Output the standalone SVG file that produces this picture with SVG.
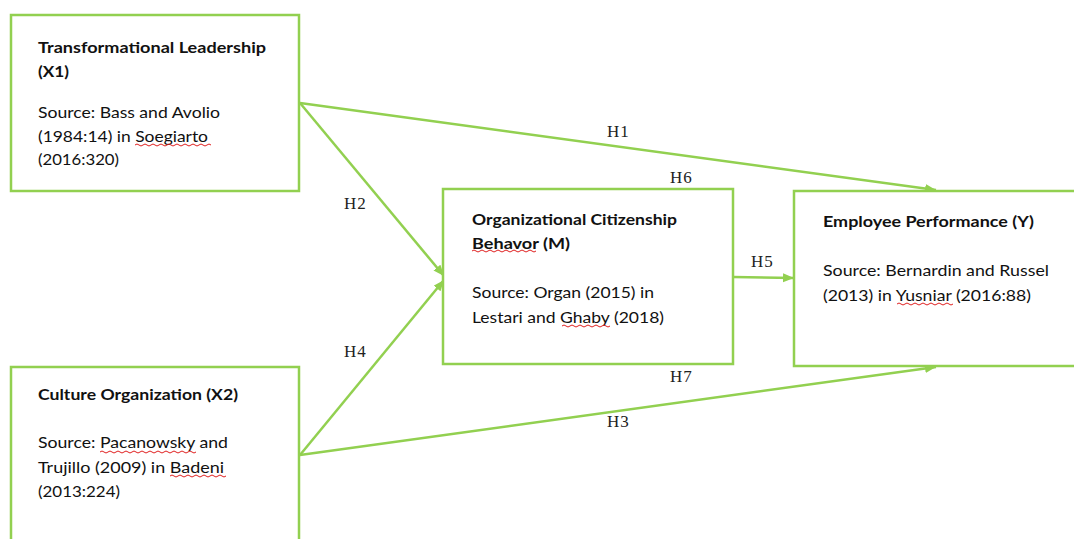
<svg xmlns="http://www.w3.org/2000/svg" width="1074" height="539" viewBox="0 0 1074 539">
<style>
.box{fill:#fff;stroke:#92D050;stroke-width:2.5}
.edge{fill:none;stroke:#92D050;stroke-width:2.5}
.t{font-family:Lato,"Liberation Sans",sans-serif;font-size:16px;fill:#111}
.b{font-weight:bold}
.h{font-family:"Liberation Serif","DejaVu Serif",serif;font-size:17px;fill:#222;letter-spacing:1px}
.sq{fill:none;stroke:#e02020;stroke-width:1}
</style>
<defs>
<marker id="arr" markerUnits="userSpaceOnUse" markerWidth="12" markerHeight="10" refX="11" refY="4.5" orient="auto">
<path d="M0,0 L11,4.5 L0,9 z" fill="#92D050"/>
</marker>
</defs>
<rect width="1074" height="539" fill="#fff"/>
<g id="connectors">
<line class="edge" x1="300" y1="103" x2="936" y2="190" marker-end="url(#arr)"/>
<line class="edge" x1="300" y1="103" x2="444" y2="276" marker-end="url(#arr)"/>
<line class="edge" x1="300" y1="455" x2="444" y2="280" marker-end="url(#arr)"/>
<line class="edge" x1="300" y1="455" x2="936" y2="367" marker-end="url(#arr)"/>
<line class="edge" x1="733" y1="277" x2="794" y2="278" marker-end="url(#arr)"/>
<text class="h" x="607" y="137">H1</text>
<text class="h" x="344" y="209">H2</text>
<text class="h" x="607" y="427">H3</text>
<text class="h" x="344" y="357">H4</text>
<text class="h" x="751" y="267">H5</text>
<text class="h" x="670" y="183">H6</text>
<text class="h" x="670" y="382">H7</text>
</g>
<g id="x1">
<rect class="box" x="11" y="15" width="288" height="176"/>
<text class="t b" x="38" y="53" textLength="228" lengthAdjust="spacingAndGlyphs">Transformational Leadership</text>
<text class="t b" x="38" y="77" textLength="31" lengthAdjust="spacingAndGlyphs">(X1)</text>
<text class="t" x="38" y="118" textLength="182" lengthAdjust="spacingAndGlyphs">Source: Bass and Avolio</text>
<text class="t" x="38" y="142" textLength="170" lengthAdjust="spacingAndGlyphs">(1984:14) in Soegiarto</text>
<text class="t" x="38" y="165" textLength="81" lengthAdjust="spacingAndGlyphs">(2016:320)</text>
<path class="sq" d="M135,145 q2,-2 4,0 t4,0 t4,0 t4,0 t4,0 t4,0 t4,0 t4,0 t4,0 t4,0 t4,0 t4,0 t4,0 t4,0 t4,0 t4,0 t4,0 t4,0 t4,0"/>
</g>
<g id="x2">
<rect class="box" x="11" y="367" width="288" height="200"/>
<text class="t b" x="38" y="400" textLength="200" lengthAdjust="spacingAndGlyphs">Culture Organization (X2)</text>
<text class="t" x="38" y="448" textLength="190" lengthAdjust="spacingAndGlyphs">Source: Pacanowsky and</text>
<text class="t" x="38" y="473" textLength="186" lengthAdjust="spacingAndGlyphs">Trujillo (2009) in Badeni</text>
<text class="t" x="38" y="497" textLength="82" lengthAdjust="spacingAndGlyphs">(2013:224)</text>
<path class="sq" d="M100,452 q2,-2 4,0 t4,0 t4,0 t4,0 t4,0 t4,0 t4,0 t4,0 t4,0 t4,0 t4,0 t4,0 t4,0 t4,0 t4,0 t4,0 t4,0 t4,0 t4,0 t4,0 t4,0 t4,0 t4,0 t4,0"/>
<path class="sq" d="M170,476 q2,-2 4,0 t4,0 t4,0 t4,0 t4,0 t4,0 t4,0 t4,0 t4,0 t4,0 t4,0 t4,0 t4,0 t4,0"/>
</g>
<g id="m">
<rect class="box" x="443" y="189" width="290" height="175"/>
<text class="t b" x="472" y="225" textLength="205" lengthAdjust="spacingAndGlyphs">Organizational Citizenship</text>
<text class="t b" x="472" y="249" textLength="98" lengthAdjust="spacingAndGlyphs">Behavor (M)</text>
<text class="t" x="472" y="298" textLength="182" lengthAdjust="spacingAndGlyphs">Source: Organ (2015) in</text>
<text class="t" x="472" y="323" textLength="192" lengthAdjust="spacingAndGlyphs">Lestari and Ghaby (2018)</text>
<path class="sq" d="M472,251 q2,-2 4,0 t4,0 t4,0 t4,0 t4,0 t4,0 t4,0 t4,0 t4,0 t4,0 t4,0 t4,0 t4,0 t4,0 t4,0 t4,0"/>
<path class="sq" d="M562,326 q2,-2 4,0 t4,0 t4,0 t4,0 t4,0 t4,0 t4,0 t4,0 t4,0 t4,0 t4,0 t4,0"/>
</g>
<g id="y">
<rect class="box" x="794" y="191" width="300" height="175"/>
<text class="t b" x="823" y="227" textLength="211" lengthAdjust="spacingAndGlyphs">Employee Performance (Y)</text>
<text class="t" x="823" y="276" textLength="226" lengthAdjust="spacingAndGlyphs">Source: Bernardin and Russel</text>
<text class="t" x="823" y="301" textLength="208" lengthAdjust="spacingAndGlyphs">(2013) in Yusniar (2016:88)</text>
<path class="sq" d="M897,304 q2,-2 4,0 t4,0 t4,0 t4,0 t4,0 t4,0 t4,0 t4,0 t4,0 t4,0 t4,0 t4,0 t4,0 t4,0"/>
</g>
</svg>
